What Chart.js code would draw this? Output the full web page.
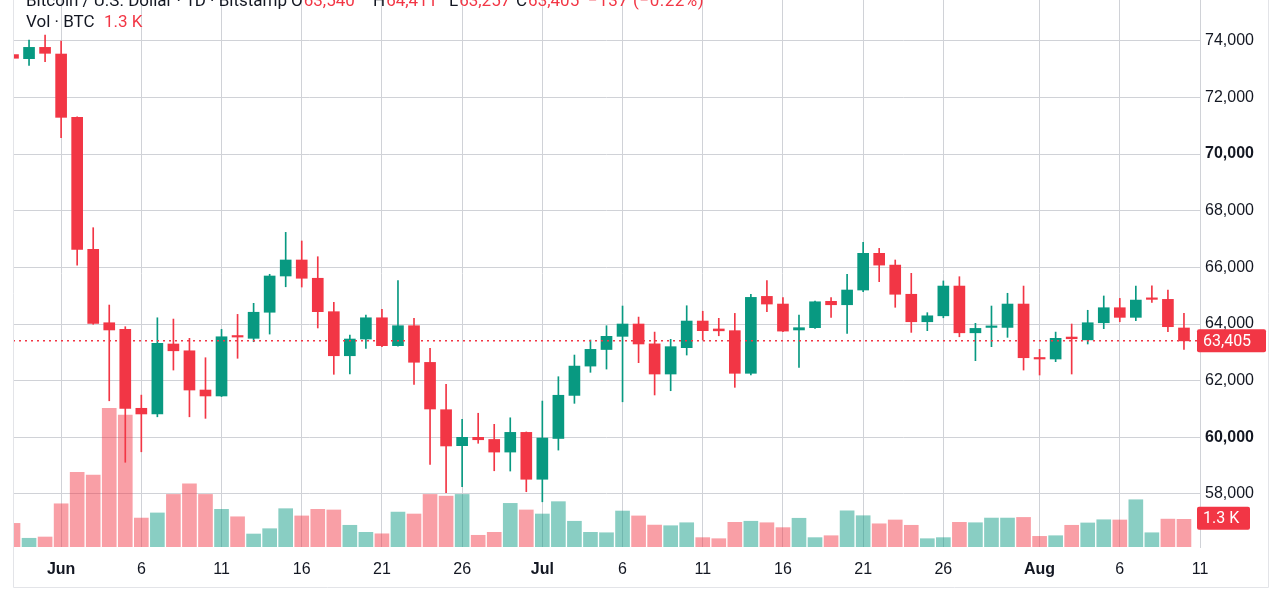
<!DOCTYPE html>
<html>
<head>
<meta charset="utf-8">
<script src="https://cdn.jsdelivr.net/npm/chart.js@4.4.1/dist/chart.umd.min.js"></script>
<style>
  html, body { margin: 0; padding: 0; background: #fff; }
  #wrap { position: relative; width: 1280px; height: 600px; overflow: hidden; font-family: Roboto, "Liberation Sans", sans-serif; }
  canvas { position: absolute; left: 0; top: 0; }
  .legend { position: absolute; font-size: 17px; line-height: 20px; color: #131722; white-space: nowrap; }
  .legend .v { color: #f23645; margin-left: 1px; }
  .red { color: #f23645; }
</style>
</head>
<body>
<div id="wrap">
  <canvas id="chart" width="1280" height="600"></canvas>
  <div class="legend" style="top:-10px; left:26px">Bitcoin / U.S. Dollar · 1D · Bitstamp</div>
  <div class="legend" style="top:-10px; left:291px">O<span class="v">63,540</span></div>
  <div class="legend" style="top:-10px; left:373px">H<span class="v">64,411</span></div>
  <div class="legend" style="top:-10px; left:449px">L<span class="v">63,257</span></div>
  <div class="legend" style="top:-10px; left:516px">C<span class="v">63,405</span></div>
  <div class="legend red" style="top:-10px; left:588px; letter-spacing:0.5px">−137 (−0.22%)</div>
  <div class="legend" style="top:11px; left:26px">Vol · BTC</div>
  <div class="legend red" style="top:11px; left:104px">1.3 K</div>
</div>
<script>
// daily bars, first one is 3 days before Jun 1 (partly hidden at the left edge)
const firstDay = -3;
const openP  = [73510, 73365, 73765, 73530, 71295, 66635, 64045, 63810, 61025, 60825,
                63295, 63055, 61670, 61460, 63585, 63495, 64415, 65695, 66260, 65615,
                64435, 62880, 63470, 64220, 63235, 63940, 62645, 60975, 59705, 60000,
                59925, 59480, 60175, 58520, 59960, 61480, 62515, 63100, 63565, 64000,
                63300, 62235, 63165, 64105, 63825, 63765, 62260, 64975, 64705, 63790,
                63870, 64800, 64680, 65200, 66495, 66080, 65050, 64080, 64290, 65340,
                63690, 63880, 63880, 64705, 62810, 62765, 63540, 63440, 64045, 64575,
                64235, 64880, 64870, 63860];
const highP  = [73530, 74025, 74200, 73990, 71310, 67400, 64670, 63905, 61490, 64220,
                64175, 63495, 62810, 63810, 64340, 64730, 65755, 67235, 66930, 66375,
                64765, 63610, 64315, 64520, 65530, 64200, 63140, 61870, 60635, 60850,
                60460, 60690, 60190, 61280, 62140, 62905, 63435, 63940, 64635, 64245,
                63715, 63460, 64645, 64450, 64200, 64375, 65050, 65530, 64930, 64315,
                64810, 64930, 65755, 66885, 66670, 66260, 65790, 64400, 65520, 65670,
                64025, 64635, 65085, 65340, 63105, 63715, 64000, 64485, 64990, 64905,
                65340, 65350, 65200, 64380];
const lowP   = [73350, 73130, 73260, 70575, 66080, 63990, 61290, 59120, 59490, 60725,
                62375, 60725, 60670, 61440, 62790, 63375, 63645, 65315, 65305, 63860,
                62225, 62235, 63140, 63200, 63220, 61870, 59045, 58045, 58255, 59790,
                58820, 58810, 58080, 57725, 59550, 61200, 62295, 62410, 61255, 62635,
                61495, 61645, 62905, 63435, 63585, 61765, 62200, 64435, 63730, 62470,
                63845, 64235, 63670, 65140, 65495, 64590, 63705, 63765, 64220, 63550,
                62705, 63200, 63530, 62375, 62200, 62670, 62235, 63295, 63835, 64080,
                64115, 64765, 63730, 63100];
const closeP = [73380, 73765, 73555, 71295, 66635, 64025, 63790, 61025, 60825, 63320,
                63055, 61670, 61460, 63550, 63540, 64415, 65695, 66260, 65615, 64435,
                62880, 63470, 64220, 63235, 63940, 62650, 61000, 59695, 60000, 59915,
                59480, 60175, 58520, 59975, 61485, 62515, 63105, 63565, 64000, 63295,
                62235, 63200, 64105, 63765, 63760, 62260, 64940, 64705, 63750, 63870,
                64785, 64680, 65200, 66495, 66080, 65050, 64080, 64290, 65340, 63690,
                63845, 63930, 64705, 62810, 62765, 63495, 63480, 64045, 64575, 64235,
                64845, 64870, 63905, 63405];
const volumeK = [1.11, 0.41, 0.47, 2.03, 3.51, 3.38, 6.51, 6.20, 1.36, 1.60,
                 2.47, 2.97, 2.47, 1.77, 1.42, 0.61, 0.86, 1.80, 1.46, 1.77,
                 1.74, 1.02, 0.69, 0.62, 1.64, 1.55, 2.47, 2.39, 2.47, 0.55,
                 0.69, 2.05, 1.74, 1.55, 2.13, 1.21, 0.69, 0.67, 1.69, 1.46,
                 1.03, 1.00, 1.14, 0.44, 0.39, 1.16, 1.21, 1.14, 0.91, 1.35,
                 0.44, 0.53, 1.70, 1.47, 1.09, 1.27, 1.02, 0.39, 0.44, 1.16,
                 1.14, 1.36, 1.36, 1.39, 0.50, 0.53, 1.02, 1.13, 1.28, 1.27,
                 2.22, 0.67, 1.31, 1.30];

const tickDays   = [0, 5, 10, 15, 20, 25, 30, 35, 40, 45, 50, 55, 61, 66, 71];
const tickLabels = ['Jun', '6', '11', '16', '21', '26', 'Jul', '6', '11', '16', '21', '26', 'Aug', '6', '11'];
const priceTicks = [58000, 60000, 62000, 64000, 66000, 68000, 70000, 72000, 74000];

const lastPrice = 63405;
const lastVolume = 1.3;

const green = '#089981';
const red = '#f23645';
const gridColor = '#d0d2d7';
const textColor = '#131722';

const day = i => firstDay + i;
const isUp = i => closeP[i] >= openP[i];
const volUp = i => i === 0 ? isUp(0) : closeP[i] >= closeP[i - 1];

const bodies = openP.map((o, i) => ({ x: day(i), y: [o, closeP[i]] }));
const wicks = lowP.map((l, i) => ({ x: day(i), y: [l, highP[i]] }));
const volumes = volumeK.map((v, i) => ({ x: day(i), y: v }));

const overlay = {
    id: 'overlay',
    afterDatasetsDraw(chart) {
        const { ctx, chartArea: a, scales } = chart;
        const y = scales.y.getPixelForValue(lastPrice);
        ctx.save();
        ctx.strokeStyle = red;
        ctx.lineWidth = 1.5;
        ctx.setLineDash([2, 4]);
        ctx.beginPath();
        ctx.moveTo(a.left, y);
        ctx.lineTo(a.right, y);
        ctx.stroke();
        ctx.restore();
    },
    afterDraw(chart) {
        const { ctx, chartArea: a, scales } = chart;
        ctx.save();
        // outer frame
        ctx.strokeStyle = '#e3e4e8';
        ctx.lineWidth = 1;
        ctx.beginPath();
        ctx.moveTo(a.left + 0.5, 0);
        ctx.lineTo(a.left + 0.5, 587.5);
        ctx.lineTo(1268.5, 587.5);
        ctx.lineTo(1268.5, 0);
        ctx.stroke();

        const tag = (text, yc, w) => {
            ctx.fillStyle = red;
            ctx.beginPath();
            ctx.roundRect(a.right - 3, yc - 11.5, w, 23, 2);
            ctx.fill();
            ctx.fillStyle = '#fff';
            ctx.font = '16px Roboto, "Liberation Sans", sans-serif';
            ctx.textBaseline = 'middle';
            ctx.textAlign = 'left';
            ctx.fillText(text, a.right + 3, yc + 1);
        };
        tag(lastPrice.toLocaleString('en-US'), scales.y.getPixelForValue(lastPrice), 69);
        tag(lastVolume.toFixed(1) + ' K', scales.yVol.getPixelForValue(lastVolume) - 1, 53);
        ctx.restore();
    }
};

new Chart(document.getElementById('chart'), {
    type: 'bar',
    data: {
        datasets: [{
            label: 'Body',
            data: bodies,
            yAxisID: 'y',
            grouped: false,
            barThickness: 11,
            minBarLength: 1.5,
            backgroundColor: ctx => isUp(ctx.dataIndex) ? green : red,
            order: 0
        }, {
            label: 'Wick',
            data: wicks,
            yAxisID: 'y',
            grouped: false,
            barThickness: 1,
            backgroundColor: ctx => isUp(ctx.dataIndex) ? green : red,
            order: 1
        }, {
            label: 'Volume',
            data: volumes,
            yAxisID: 'yVol',
            grouped: false,
            barThickness: 14,
            backgroundColor: ctx => volUp(ctx.dataIndex) ? 'rgba(8, 153, 129, 0.48)' : 'rgba(242, 54, 69, 0.48)',
            order: 2
        }]
    },
    options: {
        responsive: false,
        animation: false,
        layout: { padding: { left: 13, top: 0, right: 0, bottom: 0 } },
        plugins: {
            legend: { display: false },
            tooltip: { enabled: false }
        },
        scales: {
            x: {
                type: 'linear',
                min: firstDay,
                max: 71,
                offset: false,
                afterBuildTicks: axis => { axis.ticks = tickDays.map(v => ({ value: v })); },
                afterFit: axis => { axis.height = 53; axis.paddingLeft = 0; axis.paddingRight = 0; },
                grid: { color: gridColor, offset: false, drawTicks: false },
                border: { display: false },
                ticks: {
                    autoSkip: false,
                    maxRotation: 0,
                    padding: 13,
                    color: textColor,
                    font: ctx => {
                        const lbl = tickLabels[tickDays.indexOf(ctx.tick ? ctx.tick.value : -99)] || '';
                        return { size: 16, weight: isNaN(lbl) ? 'bold' : 'normal' };
                    },
                    callback: v => tickLabels[tickDays.indexOf(v)] || ''
                }
            },
            y: {
                position: 'right',
                min: 56129,
                max: 75437,
                afterBuildTicks: axis => { axis.ticks = priceTicks.map(v => ({ value: v })); },
                afterFit: axis => { axis.width = 80; axis.paddingTop = 0; axis.paddingBottom = 0; },
                grid: { color: gridColor, drawTicks: false },
                border: { display: true, color: gridColor },
                ticks: {
                    autoSkip: false,
                    padding: 5,
                    color: textColor,
                    font: ctx => ({ size: 16, weight: ctx.tick && ctx.tick.value % 10000 === 0 ? 'bold' : 'normal' }),
                    callback: v => v.toLocaleString('en-US')
                }
            },
            yVol: {
                display: false,
                min: 0,
                max: 25.7,
                grid: { display: false }
            }
        }
    },
    plugins: [overlay]
});
</script>
</body>
</html>
